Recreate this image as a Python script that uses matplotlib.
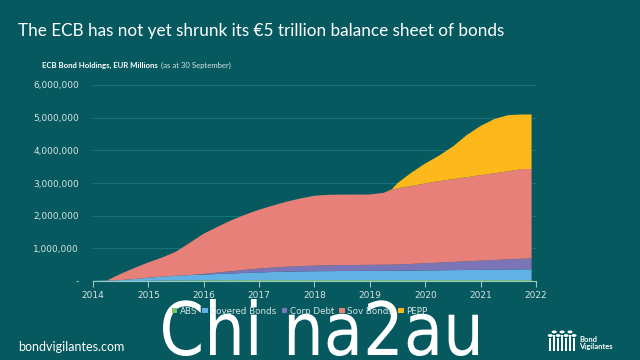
import numpy as np
import matplotlib.pyplot as plt
from matplotlib.ticker import FuncFormatter
from matplotlib.textpath import TextPath
from matplotlib.patches import PathPatch
from matplotlib.transforms import Affine2D, IdentityTransform
from matplotlib.font_manager import FontProperties

# decimal years, EUR millions
years = [2014.0, 2014.25, 2014.5, 2014.75, 2015.0, 2015.25, 2015.5, 2015.75,
         2016.0, 2016.25, 2016.5, 2016.75, 2017.0, 2017.25, 2017.5, 2017.75,
         2018.0, 2018.25, 2018.5, 2018.75, 2019.0, 2019.25, 2019.4, 2019.5,
         2019.75, 2020.0, 2020.25, 2020.5, 2020.75, 2021.0, 2021.25, 2021.5,
         2021.75, 2021.92]
abs_bonds = [0, 0, 0, 0, 5, 15, 20, 22, 24, 25, 26, 27, 28, 28, 28, 28, 28,
             28, 28, 28, 28, 28, 28, 28, 28, 28, 28, 28, 28, 28, 28, 28, 28, 28]
covered = [5, 15, 30, 60, 95, 120, 140, 160, 175, 190, 205, 220, 235, 248,
           258, 266, 272, 275, 278, 280, 282, 283, 284, 286, 290, 295, 300,
           305, 310, 315, 320, 325, 330, 330]
corp = [0, 0, 0, 0, 0, 0, 0, 0, 20, 45, 70, 95, 120, 135, 150, 160, 170, 175,
        180, 183, 185, 188, 190, 195, 205, 220, 235, 250, 265, 280, 295, 310,
        325, 330]
sov = [0, 0, 190, 340, 470, 585, 740, 990, 1230, 1400, 1560, 1690, 1800,
       1900, 1995, 2075, 2140, 2160, 2160, 2155, 2155, 2200, 2290, 2330, 2385,
       2445, 2495, 2535, 2575, 2615, 2655, 2695, 2745, 2740]
pepp = [0, 0, 0, 0, 0, 0, 0, 0, 0, 0, 0, 0, 0, 0, 0, 0, 0, 0, 0, 0, 0, 0,
        20, 160, 410, 610, 780, 1000, 1290, 1510, 1660, 1720, 1670, 1670]

labels = ['ABS', 'Covered Bonds', 'Corp Debt', 'Sov Bonds', 'PEPP']
colors = ['#7cc46a', '#62b1e4', '#7b74b6', '#e8807a', '#fdb81b']
bg = '#05595f'
txt = '#d8e4e4'

fig = plt.figure(figsize=(6.4, 3.6), dpi=100, facecolor=bg)
ax = fig.add_axes([0.1453, 0.2194, 0.6922, 0.5445], facecolor=bg)

series = [np.array(s) * 1000 for s in [abs_bonds, covered, corp, sov, pepp]]
ax.stackplot(years, *series, colors=colors, labels=labels, linewidth=0)

ax.set_xlim(2014, 2022)
ax.set_ylim(0, 6000000)
ax.set_xticks(range(2014, 2023))
ax.set_yticks(range(0, 6000001, 1000000))
ax.yaxis.set_major_formatter(FuncFormatter(lambda v, p: '-' if v == 0 else f'{int(v):,}'))
ax.grid(axis='y', color='#17747a', linewidth=0.8)
ax.set_axisbelow(True)
for s in ['top', 'right', 'left']:
    ax.spines[s].set_visible(False)
ax.spines['bottom'].set_color('#9cc8c0')
ax.tick_params(axis='x', colors='#9cc8c0', length=4, labelcolor=txt, labelsize=6.5, pad=3)
ax.tick_params(axis='y', length=0, labelcolor=txt, labelsize=6.5, pad=10)

leg = fig.legend(loc='center', bbox_to_anchor=(0.468, 0.136), ncol=5, frameon=False,
                 fontsize=6.3, handlelength=0.65, handleheight=0.65, handletextpad=0.25,
                 columnspacing=0.6, labelcolor=txt)

fig.text(0.028, 0.915, 'The ECB has not yet shrunk its \u20ac5 trillion balance sheet of bonds',
         color='white', fontsize=12.3, family='Lato', va='center')
sub = fig.text(0.066, 0.818, 'ECB Bond Holdings, EUR Millions', color='white',
               fontsize=5.6, fontweight='bold', family='Lato', va='center')
# put the bracket part right after the bold part
r = fig.canvas.get_renderer()
bb = sub.get_window_extent(renderer=r)
fig.text(bb.x1 / fig.bbox.width + 0.005, 0.818, '(as at 30 September)', color=txt,
         fontsize=5.6, family='Lato', va='center')

fig.text(0.028, 0.035, 'bondvigilantes.com', color='white', fontsize=9,
         family='Lato', va='center')

# logo
for i, dx in enumerate(np.linspace(0.858, 0.895, 7)):
    h = 0.035 + 0.01 * (i % 2)
    fig.patches.append(plt.Rectangle((dx, 0.025), 0.0035, h, transform=fig.transFigure,
                                     facecolor='white', edgecolor='none'))
    fig.patches.append(plt.Circle((dx + 0.0018, 0.025 + h + 0.008), 0.004,
                                  transform=fig.transFigure, facecolor='white'))
fig.text(0.905, 0.048, 'Bond\nVigilantes', color='white', fontsize=5.5,
         fontweight='bold', family='Lato', va='center', linespacing=1.0)

# watermark overlaid on the image, squeezed into its box (pixels)
tp = TextPath((0, 0), 'Chi na2au', size=100, prop=FontProperties(family='DejaVu Sans'))
ext = tp.get_extents()
x0, x1, y0, y1 = 163, 478, 5, 61
tr = Affine2D().translate(-ext.x0, 0).scale((x1 - x0) / ext.width, (y1 - y0) / ext.y1).translate(x0, y0)
fig.patches.append(PathPatch(tr.transform_path(tp), facecolor='white', edgecolor='none',
                             transform=IdentityTransform()))

fig.savefig('out.png', dpi=100, facecolor=bg)
